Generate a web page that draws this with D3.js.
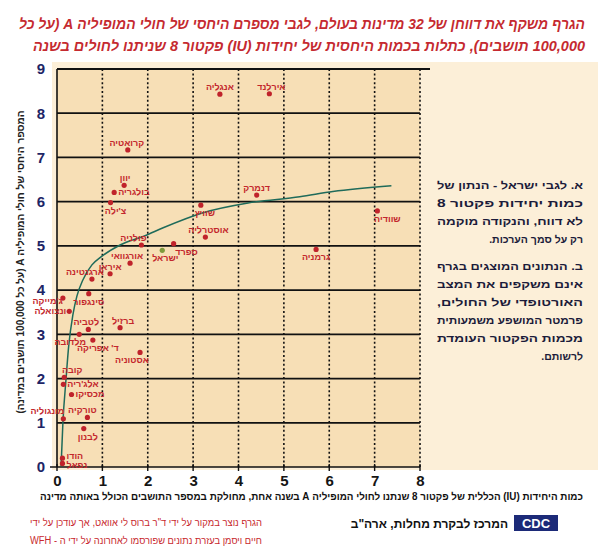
<!DOCTYPE html>
<html><head><meta charset="utf-8">
<script src="https://cdn.jsdelivr.net/npm/d3@7/dist/d3.min.js"></script>
<style>body{margin:0;background:#fff}svg{display:block}</style>
</head><body>
<svg id="c" width="600" height="550"></svg>
<script>
// ---------- data ----------
const countries = ["אנגליה","אירלנד","קרואטיה","יוון","בולגריה","צ'ילה","שוויץ","דנמרק","שוודיה","אוסטרליה","פולניה","ספרד","ישראל","גרמניה","אורגוואי","איראן","ארגנטינה","סינגפור","ג'מייקה","ונצואלה","ברזיל","לטביה","מלדובה","ד' אפריקה","אסטוניה","קובה","אלג'ריה","מכסיקו","מונגוליה","טורקיה","לבנון","הודו","נפאל"];
const xValues = [3.59,4.68,1.56,1.48,1.26,1.18,3.17,4.40,7.06,3.27,1.86,2.57,2.32,5.71,1.61,1.17,0.77,0.70,0.13,0.27,1.39,0.69,0.49,0.79,1.83,0.16,0.14,0.32,0.14,0.67,0.59,0.12,0.12];
const yValues = [8.43,8.44,7.17,6.37,6.21,5.98,5.92,6.15,5.79,5.20,5.02,5.05,4.90,4.92,4.61,4.37,4.25,3.92,3.82,3.52,3.15,3.11,3.00,2.87,2.59,2.03,1.87,1.64,1.09,1.12,0.87,0.20,0.08];
const estimatedCountry = "ישראל";
const trendX = [0.09,0.13,0.20,0.26,0.35,0.44,0.57,0.77,0.97,1.39,1.94,2.34,3.22,4.21,5.35,6.08,7.37];
const trendY = [0.02,1.00,2.00,2.76,3.44,3.87,4.23,4.57,4.75,5.02,5.23,5.41,5.75,5.97,6.11,6.23,6.36];
const xTicks = [0,1,2,3,4,5,6,7,8];
const yTicks = [0,1,2,3,4,5,6,7,8,9];
const titleLines = ["הגרף משקף את דווחן של 32 מדינות בעולם, לגבי מספרם היחסי של חולי המופיליה A (על כל","100,000 תושבים), כתלות בכמות היחסית של יחידות (IU) פקטור 8 שניתנו לחולים בשנה"];
const yTitle = "המספר היחסי של חולי המופיליה A (על כל 100,000 תושבים במדינה)";
const xTitle = "כמות היחידות (IU) הכללית של פקטור 8 שנתנו לחולי המופיליה A בשנה אחת, מחולקת במספר התושבים הכולל באותה מדינה";
const noteA = ["א. לגבי ישראל - הנתון של","כמות יחידות פקטור 8","לא דווח, והנקודה מוקמה","רק על סמך הערכות."];
const noteB = ["ב. הנתונים המוצגים בגרף","אינם משקפים את המצב","האורטופדי של החולים,","פרמטר המושפע משמעותית","מכמות הפקטור העומדת","לרשותם."];
const credits = ["הגרף נוצר במקור על ידי ד\"ר ברוס לי אוואט, אך עודכן על ידי","חיים ויסמן בעזרת נתונים שפורסמו לאחרונה על ידי ה - WFH"];
const agencyName = "המרכז לבקרת מחלות, ארה\"ב";
const agencyCode = "CDC";

// ---------- drawing ----------
const svg = d3.select("#c");
const font = "'Liberation Sans', Arial, 'DejaVu Sans', sans-serif";
const x = d3.scaleLinear().domain([0,8]).range([57,420]);
const y = d3.scaleLinear().domain([0,9]).range([467,69]);
const red = "#c3262c", navy = "#1d2566";

// panels
svg.append("rect").attr("x",52).attr("y",62).attr("width",546).attr("height",408).attr("fill","#fcefd8");
svg.append("rect").attr("x",x(0)).attr("y",y(9)).attr("width",x(8)-x(0)).attr("height",y(0)-y(9)).attr("fill","#f7dfb6");

// vertical dotted grid
svg.append("g").selectAll("line").data(xTicks.slice(1)).join("line")
  .attr("x1",d=>x(d)).attr("x2",d=>x(d)).attr("y1",y(9)).attr("y2",y(0))
  .attr("stroke","#111").attr("stroke-width",1.6).attr("stroke-dasharray","2,2.4");
// horizontal solid grid
svg.append("g").selectAll("line").data(yTicks.slice(1)).join("line")
  .attr("x1",x(0)).attr("x2",d=>d===9?430:x(8)).attr("y1",d=>y(d)).attr("y2",d=>y(d))
  .attr("stroke","#111").attr("stroke-width",1.8);

// axes
const xAxis = d3.axisBottom(x).tickValues(xTicks).tickSize(0).tickPadding(8);
const gx = svg.append("g").attr("transform",`translate(0,${y(0)})`).call(xAxis);
gx.select(".domain").remove();
gx.selectAll("text").attr("font-family",font).attr("font-size",15).attr("font-weight","bold").attr("fill","#151515");
svg.append("line").attr("x1",50).attr("x2",x(8)).attr("y1",y(0)).attr("y2",y(0)).attr("stroke","#111").attr("stroke-width",1.6);
svg.append("g").selectAll("line").data(xTicks).join("line")
  .attr("x1",d=>x(d)).attr("x2",d=>x(d)).attr("y1",y(0)-3).attr("y2",y(0)+4).attr("stroke","#111").attr("stroke-width",1.4);

const yAxis = d3.axisLeft(y).tickValues(yTicks).tickSize(0).tickPadding(12);
const gy = svg.append("g").attr("transform",`translate(${x(0)},0)`).call(yAxis);
gy.select(".domain").remove();
gy.selectAll("text").attr("font-family",font).attr("font-size",15).attr("font-weight","bold").attr("fill",navy)
  .attr("dy","0.32em");
svg.append("line").attr("x1",x(0)).attr("x2",x(0)).attr("y1",y(9)).attr("y2",y(0)).attr("stroke","#111").attr("stroke-width",1.6);

// trend curve
const pts = trendX.map((v,i)=>[v,trendY[i]]);
svg.append("path").attr("d",d3.line().x(d=>x(d[0])).y(d=>y(d[1])).curve(d3.curveMonotoneX)(pts))
  .attr("fill","none").attr("stroke","#1f6b5a").attr("stroke-width",1.5);

// points
const place = {
 "אנגליה":["a",0,0],"אירלנד":["a",2,0],"קרואטיה":["a",-1,0],"יוון":["a",1,0],"בולגריה":["r",0,0],
 "צ'ילה":["b",5,0],"שוויץ":["b",4,0],"דנמרק":["a",0,0],"שוודיה":["b",10,0],"אוסטרליה":["a",3,0],
 "פולניה":["a",-8,0],"ספרד":["b",13,0],"ישראל":["b",3,0],"גרמניה":["b",0,0],"אורגוואי":["a",-3,0],
 "איראן":["a",0,0],"ארגנטינה":["a",-7,0],"סינגפור":["b",0,0],"ג'מייקה":["l",3,3],"ונצואלה":["l",0,0],
 "ברזיל":["a",3,0],"לטביה":["a",-2,0],"מלדובה":["b",-9,0],"ד' אפריקה":["b",5,0],"אסטוניה":["b",-8,0],
 "קובה":["a",8,0],"אלג'ריה":["r",0,0],"מכסיקו":["r",0,0],"מונגוליה":["l",4,-8],"טורקיה":["a",-5,0],
 "לבנון":["b",4,0],"הודו":["r",0,-2],"נפאל":["r",0,2]
};
const pd = countries.map((c,i)=>({c, x:xValues[i], y:yValues[i]}));
svg.append("g").selectAll("circle").data(pd).join("circle")
  .attr("cx",d=>x(d.x)).attr("cy",d=>y(d.y)).attr("r",2.6)
  .attr("fill",d=>d.c===estimatedCountry?"#7f9a3c":"#c0232b");
svg.append("g").selectAll("text").data(pd).join("text")
  .each(function(d){
    const p = place[d.c]||["a",0,0]; const cx=x(d.x), cy=y(d.y); const s=d3.select(this);
    if(p[0]==="a") s.attr("x",cx+p[1]).attr("y",cy-4+p[2]).attr("text-anchor","middle");
    else if(p[0]==="b") s.attr("x",cx+p[1]).attr("y",cy+11+p[2]).attr("text-anchor","middle");
    else if(p[0]==="l") s.attr("x",cx-3+p[1]).attr("y",cy+3+p[2]).attr("text-anchor","end");
    else s.attr("x",cx+4+p[1]).attr("y",cy+3+p[2]).attr("text-anchor","start");
  })
  .attr("font-family",font).attr("font-size",9).attr("font-weight","bold").attr("fill",red)
  .text(d=>d.c);

// RTL text helper
function rtl(txt,xr,yb,size,color,weight,style,len){
  const t = svg.append("text").attr("x",xr).attr("y",yb).attr("direction","rtl").style("direction","rtl")
    .attr("text-anchor","start").attr("font-family",font).attr("font-size",size)
    .attr("font-weight",weight||"bold").attr("font-style",style||"normal").attr("fill",color).text(txt);
  if(len){ t.attr("textLength",len).attr("lengthAdjust","spacingAndGlyphs"); }
  return t;
}
// title
rtl(titleLines[0],585,29,14.5,"#c52a30","bold","italic",566);
rtl(titleLines[1],585,51,14.5,"#c52a30","bold","italic",552);
// y title
svg.append("text").attr("transform","translate(24,262) rotate(-90)").attr("direction","rtl").style("direction","rtl")
  .attr("text-anchor","middle").attr("font-family",font).attr("font-size",10).attr("font-weight","bold").attr("fill","#222")
  .text(yTitle);
// x title
rtl(xTitle,583,500,10,"#111","bold","normal",543);
// notes (justified except last line of each paragraph)
noteA.forEach((t,i)=>rtl(t,583,189+i*18,10.5,"#1b1b3a","bold","normal",i<noteA.length-1?146:null));
noteB.forEach((t,i)=>rtl(t,583,270+i*18,10.5,"#1b1b3a","bold","normal",i<noteB.length-1?146:null));
// credits
rtl(credits[0],262,526,10,"#c8282e","normal","normal",232);
rtl(credits[1],262,544,10,"#c8282e","normal","normal",232);
// agency
svg.append("rect").attr("x",514).attr("y",515).attr("width",44).attr("height",16).attr("fill","#1c2a78");
svg.append("text").attr("x",536).attr("y",528).attr("text-anchor","middle").attr("font-family",font)
  .attr("font-size",13).attr("font-weight","bold").attr("fill","#fff").text(agencyCode);
rtl(agencyName,508,528,12,"#111","bold");
</script>
</body></html>
